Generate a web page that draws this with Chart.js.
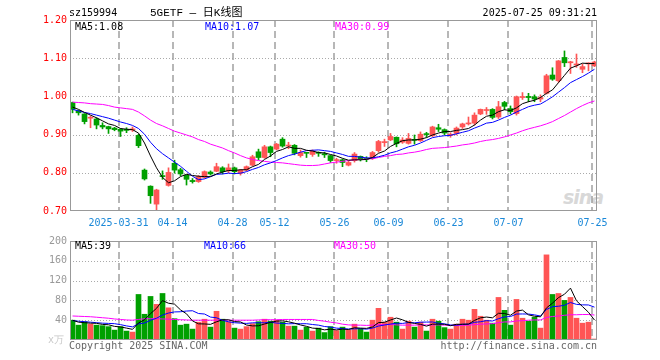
<!DOCTYPE html>
<html>
<head>
<meta charset="utf-8">
<script src="https://cdn.jsdelivr.net/npm/chart.js@4.4.1/dist/chart.umd.min.js"></script>
<style>
  body { margin: 0; background: #fff; }
  #wrap { position: relative; width: 660px; height: 360px; overflow: hidden; }
  canvas { position: absolute; left: 0; }
  .t { position: absolute; font: 10px 'DejaVu Sans Mono', monospace; line-height: 12px; white-space: pre; }
</style>
</head>
<body>
<div id="wrap">
  <div class="t" style="left:563px;top:186px;font:italic bold 19px 'DejaVu Sans',sans-serif;line-height:22px;color:#d8d8d8;letter-spacing:-1px">sina</div>
  <canvas id="kline" width="660" height="232" style="top:0"></canvas>
  <canvas id="volume" width="660" height="128" style="top:232px"></canvas>

  <div class="t" style="left:69px;top:7px">sz159994</div>
  <div class="t" style="left:150px;top:6px;font:11px 'Liberation Mono','Noto Sans CJK SC',monospace;line-height:14px">5GETF — 日K线图</div>
  <div class="t" style="right:63px;top:7px">2025-07-25 09:31:21</div>

  <div class="t" style="left:75px;top:21px;color:#000">MA5:1.08</div>
  <div class="t" style="left:205px;top:21px;color:#0000ff">MA10:1.07</div>
  <div class="t" style="left:335px;top:21px;color:#ff00ff">MA30:0.99</div>

  <div class="t" style="left:75px;top:240px;color:#000">MA5:39</div>
  <div class="t" style="left:204px;top:240px;color:#0000ff">MA10:66</div>
  <div class="t" style="left:334px;top:240px;color:#ff00ff">MA30:50</div>

  <div class="t" style="left:48px;top:334px;color:#c8c8c8">x万</div>
  <div class="t" style="left:69px;top:340px;color:#666">Copyright 2025 SINA.COM</div>
  <div class="t" style="right:63px;top:340px;color:#666">http://finance.sina.com.cn</div>
</div>
<script>
// 交易日
const dates = [
  '2025-03-19','2025-03-20','2025-03-21','2025-03-24','2025-03-25','2025-03-26','2025-03-27','2025-03-28','2025-03-31',
  '2025-04-01','2025-04-02','2025-04-03','2025-04-07','2025-04-08','2025-04-09','2025-04-10','2025-04-11','2025-04-14',
  '2025-04-15','2025-04-16','2025-04-17','2025-04-18','2025-04-21','2025-04-22','2025-04-23','2025-04-24','2025-04-25',
  '2025-04-28','2025-04-29','2025-04-30','2025-05-06','2025-05-07','2025-05-08','2025-05-09','2025-05-12','2025-05-13',
  '2025-05-14','2025-05-15','2025-05-16','2025-05-19','2025-05-20','2025-05-21','2025-05-22','2025-05-23','2025-05-26',
  '2025-05-27','2025-05-28','2025-05-29','2025-05-30','2025-06-03','2025-06-04','2025-06-05','2025-06-06','2025-06-09',
  '2025-06-10','2025-06-11','2025-06-12','2025-06-13','2025-06-16','2025-06-17','2025-06-18','2025-06-19','2025-06-20',
  '2025-06-23','2025-06-24','2025-06-25','2025-06-26','2025-06-27','2025-06-30','2025-07-01','2025-07-02','2025-07-03',
  '2025-07-04','2025-07-07','2025-07-08','2025-07-09','2025-07-10','2025-07-11','2025-07-14','2025-07-15','2025-07-16',
  '2025-07-17','2025-07-18','2025-07-21','2025-07-22','2025-07-23','2025-07-24','2025-07-25'
];
const tickDates = ['2025-03-31','2025-04-14','2025-04-28','2025-05-12','2025-05-26','2025-06-09','2025-06-23','2025-07-07','2025-07-25'];

// 开高低收
const open = [0.984,0.963,0.954,0.943,0.941,0.924,0.921,0.917,0.914,0.914,
  0.912,0.898,0.807,0.765,0.718,0.792,0.767,0.825,0.808,0.794,
  0.780,0.777,0.788,0.802,0.804,0.813,0.805,0.813,0.799,0.807,
  0.820,0.855,0.840,0.868,0.862,0.888,0.870,0.872,0.845,0.852,
  0.848,0.853,0.850,0.845,0.832,0.834,0.820,0.832,0.843,0.838,
  0.838,0.858,0.879,0.886,0.893,0.880,0.877,0.887,0.884,0.902,
  0.897,0.918,0.913,0.898,0.903,0.920,0.928,0.930,0.954,0.963,
  0.966,0.946,0.984,0.968,0.955,0.997,1.000,0.999,0.993,1.008,
  1.056,1.041,1.102,1.088,1.082,1.071,1.085,1.080];
const high = [0.985,0.964,0.955,0.949,0.944,0.931,0.922,0.919,0.916,0.918,
  0.920,0.901,0.810,0.766,0.757,0.805,0.813,0.833,0.812,0.795,
  0.785,0.793,0.805,0.805,0.825,0.816,0.823,0.815,0.809,0.818,
  0.846,0.862,0.872,0.870,0.877,0.892,0.880,0.874,0.860,0.853,
  0.860,0.855,0.854,0.846,0.838,0.836,0.830,0.853,0.844,0.842,
  0.856,0.885,0.888,0.903,0.894,0.892,0.903,0.899,0.907,0.906,
  0.922,0.927,0.915,0.905,0.920,0.930,0.946,0.957,0.967,0.971,
  0.968,0.987,0.987,0.975,1.001,1.010,1.008,1.004,1.004,1.058,
  1.075,1.094,1.119,1.092,1.111,1.085,1.088,1.092];
const low = [0.957,0.951,0.928,0.918,0.915,0.915,0.903,0.910,0.895,0.905,
  0.908,0.866,0.781,0.720,0.701,0.783,0.765,0.799,0.792,0.768,
  0.773,0.775,0.786,0.794,0.803,0.797,0.800,0.797,0.794,0.805,
  0.818,0.834,0.838,0.842,0.860,0.867,0.863,0.847,0.841,0.840,
  0.843,0.843,0.840,0.827,0.825,0.816,0.818,0.828,0.831,0.829,
  0.835,0.854,0.869,0.884,0.868,0.877,0.875,0.875,0.882,0.893,
  0.895,0.908,0.899,0.893,0.899,0.916,0.925,0.925,0.952,0.953,
  0.941,0.942,0.965,0.954,0.951,0.992,0.986,0.986,0.986,1.006,
  1.042,1.037,1.078,1.060,1.076,1.062,1.067,1.078];
const close = [0.966,0.957,0.934,0.945,0.925,0.920,0.915,0.913,0.909,0.911,
  0.915,0.871,0.784,0.740,0.755,0.790,0.801,0.807,0.797,0.783,
  0.777,0.790,0.803,0.797,0.816,0.803,0.813,0.803,0.807,0.816,
  0.842,0.840,0.868,0.853,0.875,0.870,0.872,0.851,0.853,0.851,
  0.857,0.851,0.847,0.832,0.834,0.827,0.827,0.849,0.835,0.835,
  0.853,0.882,0.881,0.895,0.876,0.886,0.890,0.885,0.901,0.900,
  0.920,0.914,0.904,0.901,0.917,0.928,0.930,0.951,0.966,0.965,
  0.945,0.973,0.974,0.960,0.999,0.999,0.997,0.993,0.997,1.054,
  1.045,1.093,1.088,1.090,1.085,1.078,1.087,1.090];

// 均线
const ma5 = [0.972,0.966,0.958,0.951,0.944,0.936,0.928,0.924,0.916,0.914,
  0.913,0.904,0.878,0.844,0.813,0.788,0.774,0.779,0.790,0.796,
  0.793,0.791,0.790,0.790,0.797,0.802,0.806,0.806,0.808,0.808,
  0.816,0.822,0.835,0.844,0.856,0.861,0.868,0.864,0.864,0.859,
  0.857,0.853,0.852,0.848,0.844,0.838,0.833,0.834,0.834,0.835,
  0.840,0.851,0.857,0.869,0.877,0.884,0.886,0.886,0.888,0.892,
  0.899,0.904,0.908,0.908,0.911,0.913,0.916,0.925,0.938,0.948,
  0.951,0.960,0.965,0.963,0.970,0.981,0.986,0.990,0.997,1.008,
  1.017,1.036,1.055,1.074,1.080,1.087,1.086,1.086];
const ma10 = [0.966,0.962,0.958,0.955,0.951,0.947,0.943,0.938,0.933,0.929,
  0.924,0.916,0.901,0.880,0.863,0.850,0.839,0.828,0.817,0.804,
  0.791,0.782,0.784,0.790,0.796,0.797,0.799,0.798,0.799,0.803,
  0.809,0.814,0.821,0.826,0.832,0.839,0.845,0.849,0.854,0.858,
  0.859,0.860,0.858,0.856,0.852,0.848,0.843,0.843,0.841,0.839,
  0.839,0.842,0.846,0.852,0.856,0.862,0.868,0.872,0.878,0.885,
  0.892,0.895,0.897,0.898,0.902,0.906,0.910,0.917,0.923,0.930,
  0.932,0.938,0.945,0.951,0.959,0.966,0.973,0.977,0.980,0.989,
  0.999,1.011,1.023,1.036,1.044,1.052,1.061,1.071];
const ma30 = [0.985,0.984,0.983,0.981,0.980,0.979,0.976,0.972,0.970,0.968,
  0.966,0.959,0.949,0.938,0.929,0.923,0.916,0.909,0.904,0.899,
  0.894,0.887,0.882,0.875,0.870,0.865,0.858,0.852,0.845,0.839,
  0.835,0.832,0.830,0.828,0.827,0.826,0.824,0.822,0.820,0.819,
  0.819,0.820,0.823,0.826,0.828,0.830,0.832,0.834,0.835,0.836,
  0.837,0.840,0.843,0.845,0.848,0.849,0.852,0.854,0.857,0.861,
  0.864,0.865,0.866,0.868,0.870,0.873,0.875,0.878,0.882,0.885,
  0.887,0.890,0.894,0.899,0.904,0.910,0.915,0.919,0.923,0.928,
  0.934,0.942,0.950,0.959,0.968,0.976,0.983,0.988];

// 成交量(万)
const vol = [40,30,37,32,30,29,27,20,27,18,
  16,92,52,88,72,94,65,43,30,32,
  22,36,42,26,58,42,37,24,22,27,
  33,37,42,38,40,36,28,28,20,26,
  18,24,15,27,19,26,20,32,23,16,
  40,64,36,46,36,22,38,26,36,18,
  42,38,25,22,32,42,40,62,48,40,
  34,86,60,30,82,44,38,46,24,172,
  92,94,80,86,44,34,36,2];
const volMa5 = [40,36,35,34,33.7,31.5,30.8,27.5,26.4,24,
  21.5,34.5,40.9,53.2,64,79.6,74.3,72.5,60.9,52.9,
  38.5,32.7,32.4,31.6,36.8,40.8,40.9,37.3,36.5,30.3,
  28.5,28.7,32.3,35.5,38.1,38.7,36.8,34,30.4,27.6,
  24,23.2,20.5,21.9,20.4,22,21.2,24.7,24,23.5,
  26.3,35.1,35.9,40.4,44.4,40.8,35.6,33.6,31.6,28,
  32,32,31.7,28.9,31.7,31.7,32.1,39.6,44.8,46.4,
  44.8,54,53.6,50,58.4,60.4,50.8,48,46.8,64.8,
  74.4,85.6,92.4,104.8,79.2,67.6,56,40.4];
const volMa10 = [39,38,37,36,35,34,33.5,33,31,28.5,
  26.5,32.7,34.2,39.8,44,50.5,54.4,56.7,57.1,58.5,
  59.1,53.5,52.5,46.3,44.9,39.7,36.8,34.9,34.1,33.5,
  34.7,34.8,34.8,36,34.2,33.6,32.7,33.1,32.9,32.9,
  31.3,30,27.3,26.1,24,23,22.2,22.6,22.9,21.9,
  24.1,28.1,30.3,32.2,33.9,33.5,35.3,34.7,36,36.2,
  36.4,33.8,32.7,30.3,29.9,31.9,32.1,35.7,36.9,39.1,
  38.3,43.1,46.6,47.4,52.4,52.6,52.4,50.8,48.4,61.6,
  67.4,68.2,70.2,75.8,72,71,70.8,66.4];
const volMa30 = [48.5,48,47.5,47,46,45,44,42.5,41.5,40.5,
  40,41.5,43,43,43,42.5,42,41.5,41,40.5,
  40,40,40,40,40,40,40,40,40,40,
  40,40.5,41,41,41,41.5,41.5,41.5,41.5,41.5,
  41.5,39.5,38,36,34.5,32,30.5,30,30,29.5,
  30,31,31,31.5,30.5,30,30,30,30.5,30.5,
  30.5,30.5,30,29.5,29.5,29.5,30,31,32,32.5,
  33,35,36.5,36.5,38.5,39,40,40.5,40.5,45.5,
  47.5,48.5,50,51,51,51.5,51.5,50.5];

const priceTicks = [0.7, 0.8, 0.9, 1.0, 1.1, 1.2];
const volTicks = [0, 40, 80, 120, 160, 200];

const upColor = '#ff5555';
const downColor = '#00a000';
const mono = { family: "'DejaVu Sans Mono', monospace", size: 10 };
const X_MIN = -0.42;
const X_MAX = 87.42;

const colors = close.map((c, i) => c >= open[i] ? upColor : downColor);
// 竖线画在K线中心偏左一点
const tickPos = tickDates.map(d => dates.indexOf(d) - 1 / 3);
const tickLabels = tickDates.map((d, i) => i === 0 ? d : d.slice(5));

// 网格: 横向点线, 纵向虚线
function gridLines(hTicks) {
  return {
    id: 'gridLines',
    beforeDatasetsDraw(chart) {
      const ctx = chart.ctx;
      const a = chart.chartArea;
      const xScale = chart.scales.x;
      const yScale = chart.scales.y;
      ctx.save();
      ctx.strokeStyle = '#aaa';
      ctx.lineWidth = 1;
      ctx.setLineDash([1, 2]);
      hTicks.slice(1, -1).forEach(v => {
        const py = Math.round(yScale.getPixelForValue(v)) + 0.5;
        ctx.beginPath();
        ctx.moveTo(a.left, py);
        ctx.lineTo(a.right, py);
        ctx.stroke();
      });
      ctx.restore();

      ctx.save();
      ctx.strokeStyle = '#a0a0a0';
      ctx.lineWidth = 1.5;
      ctx.setLineDash([7, 4]);
      tickPos.forEach(v => {
        const px = Math.round(xScale.getPixelForValue(v));
        ctx.beginPath();
        ctx.moveTo(px, a.top);
        ctx.lineTo(px, a.bottom);
        ctx.stroke();
      });
      ctx.restore();
    },
    afterDraw(chart) {
      // 边框
      const { ctx, chartArea: a } = chart;
      ctx.save();
      ctx.strokeStyle = '#999';
      ctx.lineWidth = 1;
      ctx.setLineDash([]);
      ctx.strokeRect(Math.round(a.left) + 0.5, Math.round(a.top) + 0.5,
        Math.round(a.right - a.left) - 1, Math.round(a.bottom - a.top) - 1);
      ctx.restore();
    }
  };
}

function xAxis(showLabels) {
  return {
    type: 'linear',
    min: X_MIN,
    max: X_MAX,
    bounds: 'data',
    offset: false,
    afterBuildTicks: ax => { ax.ticks = tickPos.map(v => ({ value: v })); },
    afterFit: ax => { ax.height = showLabels ? 21 : 20; },
    grid: { display: false, drawTicks: false },
    border: { display: false },
    ticks: {
      display: showLabels,
      autoSkip: false,
      maxRotation: 0,
      padding: 6,
      color: '#1a88d8',
      font: mono,
      callback: (v, i) => tickLabels[i]
    }
  };
}

function yAxis(ticks, color, fmt) {
  return {
    min: ticks[0],
    max: ticks[ticks.length - 1],
    afterBuildTicks: ax => { ax.ticks = ticks.map(v => ({ value: v })); },
    afterFit: ax => { ax.width = 70; },
    grid: { display: false, drawTicks: false },
    border: { display: false },
    ticks: { color: color, padding: 3, font: mono, callback: fmt }
  };
}

function maLine(values, color) {
  return {
    type: 'line',
    data: values.map((v, i) => ({ x: i, y: v })),
    borderColor: color,
    borderWidth: 1,
    pointRadius: 0,
    fill: false,
    tension: 0,
    order: 1
  };
}

const common = {
  responsive: false,
  devicePixelRatio: 1,
  animation: false,
  events: [],
  plugins: { legend: { display: false }, tooltip: { enabled: false } }
};

new Chart(document.getElementById('kline'), {
  type: 'bar',
  data: {
    datasets: [
      maLine(ma5, '#000000'),
      maLine(ma10, '#0000ff'),
      maLine(ma30, '#ff00ff'),
      {
        data: open.map((o, i) => ({ x: i, y: [o, close[i]] })),
        backgroundColor: colors,
        barThickness: 5,
        minBarLength: 1,
        grouped: false,
        order: 2
      },
      {
        data: low.map((l, i) => ({ x: i, y: [l, high[i]] })),
        backgroundColor: colors,
        barThickness: 1,
        grouped: false,
        order: 3
      }
    ]
  },
  options: {
    ...common,
    layout: { padding: { left: 0, right: 63, top: 20, bottom: 0 } },
    scales: {
      x: xAxis(true),
      y: yAxis(priceTicks, '#ff0000', v => v.toFixed(2))
    }
  },
  plugins: [gridLines(priceTicks)]
});

new Chart(document.getElementById('volume'), {
  type: 'bar',
  data: {
    datasets: [
      maLine(volMa5, '#000000'),
      maLine(volMa10, '#0000ff'),
      maLine(volMa30, '#ff00ff'),
      {
        data: vol.map((v, i) => ({ x: i, y: v })),
        backgroundColor: colors,
        barThickness: 5,
        minBarLength: 1,
        grouped: false,
        order: 2
      }
    ]
  },
  options: {
    ...common,
    layout: { padding: { left: 0, right: 63, top: 8, bottom: 0 } },
    scales: {
      x: xAxis(false),
      y: yAxis(volTicks, '#999', v => v === 0 ? '' : String(v))
    }
  },
  plugins: [gridLines(volTicks)]
});
</script>
</body>
</html>
